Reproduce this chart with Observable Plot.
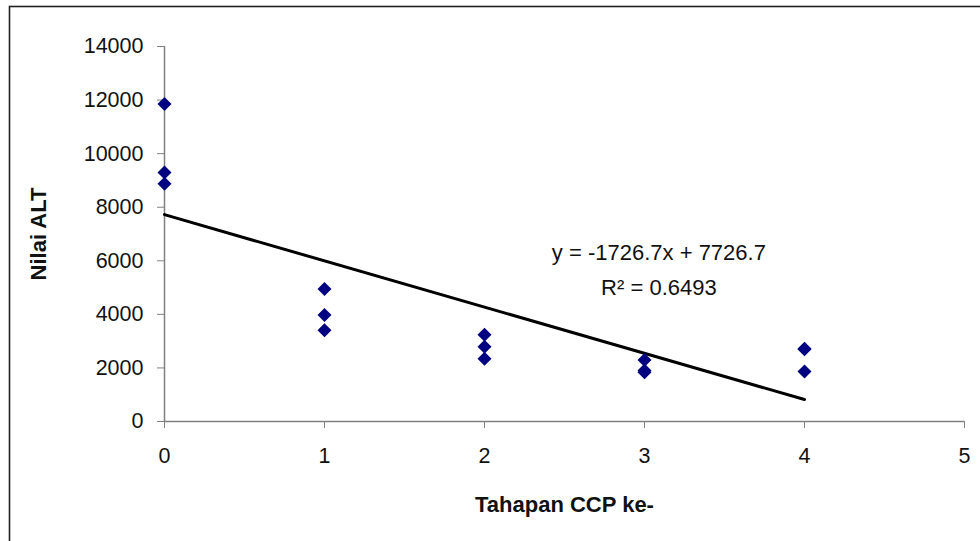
<!DOCTYPE html>
<html><head><meta charset="utf-8">
<script src="https://cdn.jsdelivr.net/npm/d3@7"></script>
<script src="https://cdn.jsdelivr.net/npm/@observablehq/plot@0.6"></script>
<style>html,body{margin:0;padding:0;background:#fff;overflow:hidden}</style>
</head><body><div id="chart"></div>
<script>
const stage = [0, 0, 0, 1, 1, 1, 2, 2, 2, 3, 3, 3, 4, 4, 4];
const alt = [11850, 9300, 8880, 4950, 3980, 3410, 3240, 2790, 2340, 2300, 1900, 1840, 2720, 2700, 1870];
const xTicks = [0, 1, 2, 3, 4, 5];
const yTicks = [0, 2000, 4000, 6000, 8000, 10000, 12000, 14000];
const xTitle = "Tahapan CCP ke-";
const yTitle = "Nilai ALT";
const eqLine1 = "y = -1726.7x + 7726.7";
const eqLine2 = "R² = 0.6493";

const points = stage.map((s, i) => ({stage: s, alt: alt[i]}));

const chart = Plot.plot({
  width: 980, height: 541,
  marginLeft: 164, marginRight: 16, marginTop: 46, marginBottom: 120,
  style: {fontFamily: "'Liberation Sans', Arial, sans-serif", fontSize: "21.5px", color: "#000", background: "#fff", overflow: "hidden"},
  x: {domain: [0, 5]},
  y: {domain: [0, 14000]},
  marks: [
    Plot.frame({stroke: "#222", strokeWidth: 1.6, insetLeft: -155, insetTop: -40, insetRight: -40, insetBottom: -140}),
    Plot.ruleY([0], {stroke: "#808080", strokeWidth: 1.5}),
    Plot.ruleX([0], {stroke: "#808080", strokeWidth: 1.5}),
    Plot.axisY(yTicks, {tickSize: 7, tickPadding: 14, tickFormat: "d", stroke: "#808080", fill: "#111", label: null}),
    Plot.axisX(xTicks, {tickSize: 7, tickPadding: 19, tickFormat: "d", stroke: "#808080", fill: "#111", label: null}),
    Plot.linearRegressionY(points, {x: "stage", y: "alt", stroke: "#000", strokeWidth: 3, ci: 0}),
    Plot.dot(points, {x: "stage", y: "alt", symbol: "diamond2", r: 6.3, fill: "#000080", stroke: "none"}),
    Plot.text([xTitle], {frameAnchor: "bottom", dy: 90, fontWeight: "bold", fontSize: 22, fill: "#111"}),
    Plot.text([yTitle], {frameAnchor: "left", textAnchor: "middle", rotate: -90, dx: -126, fontWeight: "bold", fontSize: 22, fill: "#111"}),
    Plot.text([eqLine1], {x: 3.09, y: 6300, fontSize: 22, fill: "#111"}),
    Plot.text([eqLine2], {x: 3.09, y: 5000, fontSize: 22, fill: "#111"})
  ]
});
document.getElementById("chart").appendChild(chart);
</script>
</body></html>
